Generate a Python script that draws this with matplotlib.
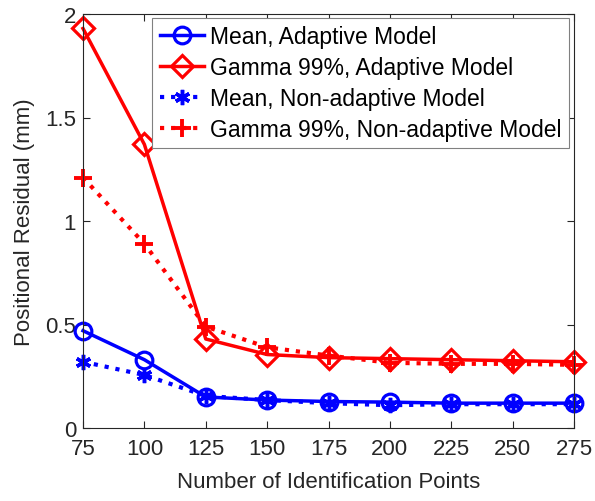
import matplotlib
matplotlib.use("Agg")
import matplotlib.pyplot as plt

plt.rcParams['font.family'] = ['Liberation Sans', 'DejaVu Sans']

points = [75, 100, 125, 150, 175, 200, 225, 250, 275]
mean_adaptive = [0.47, 0.33, 0.15, 0.135, 0.128, 0.125, 0.12, 0.12, 0.12]
gamma_adaptive = [1.93, 1.37, 0.43, 0.355, 0.34, 0.335, 0.33, 0.325, 0.32]
mean_nonadaptive = [0.32, 0.256, 0.155, 0.135, 0.12, 0.11, 0.115, 0.115, 0.115]
gamma_nonadaptive = [1.21, 0.89, 0.49, 0.39, 0.35, 0.315, 0.31, 0.31, 0.305]

fig = plt.figure(figsize=(5.95, 5.02), dpi=100)
ax = fig.add_axes([83 / 595, 73 / 502, 491 / 595, 414 / 502])

ax.plot(points, mean_adaptive, '-', color='#0000ff', lw=2.5, marker='o', ms=12,
        mfc='none', mew=2.3, label='Mean, Adaptive Model', clip_on=False)
ax.plot(points, gamma_adaptive, '-', color='#ff0000', lw=2.5, marker='D', ms=11,
        mfc='none', mew=2.3, label='Gamma 99%, Adaptive Model', clip_on=False)
ax.plot(points, mean_nonadaptive, ':', color='#0000ff', lw=3, marker=(6, 2, 0), ms=11,
        mew=2.5, label='Mean, Non-adaptive Model', clip_on=False)
ax.plot(points, gamma_nonadaptive, ':', color='#ff0000', lw=3, marker='+', ms=13,
        mew=2.8, label='Gamma 99%, Non-adaptive Model', clip_on=False)

ax.set_xlim(75, 275)
ax.set_ylim(0, 2)
ax.set_xticks(points)
ax.set_yticks([0, 0.5, 1, 1.5, 2])
ax.set_yticklabels(['0', '0.5', '1', '1.5', '2'])
ax.tick_params(direction='in', top=True, right=True, labelsize=16, colors='#262626',
               length=5, width=0.8)
ax.tick_params(axis='x', pad=7)
ax.tick_params(axis='y', pad=5)
for sp in ax.spines.values():
    sp.set_color('#262626')
    sp.set_linewidth(0.8)

ax.set_xlabel('Number of Identification Points', fontsize=16, color='#262626', labelpad=9)
ax.set_ylabel('Positional Residual (mm)', fontsize=16, color='#262626', labelpad=7)

leg = ax.legend(loc='upper right', fontsize=16.5, frameon=True, fancybox=False,
                edgecolor='#808080', framealpha=1, handlelength=1.95,
                bbox_to_anchor=(569 / 595, 483 / 502), bbox_transform=fig.transFigure,
                borderaxespad=0, labelspacing=0.34, handletextpad=0.25,
                borderpad=0.32)
leg.get_frame().set_linewidth(0.8)

fig.savefig('out.png', dpi=100)
